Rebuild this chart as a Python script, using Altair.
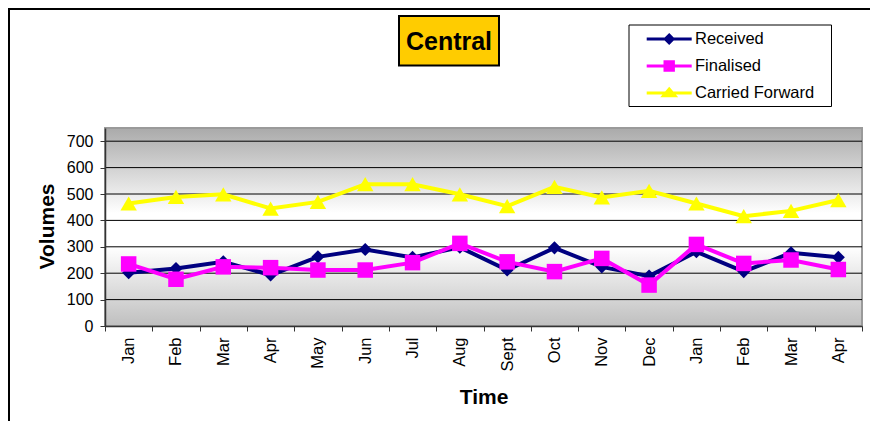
import json
import altair as alt
import pandas as pd

# ---- data ----
MONTHS = ["Jan", "Feb", "Mar", "Apr", "May", "Jun", "Jul", "Aug",
          "Sept", "Oct", "Nov", "Dec", "Jan", "Feb", "Mar", "Apr"]
SERIES = ["Received", "Finalised", "Carried Forward"]
RECEIVED = [202, 218, 243, 193, 262, 290, 260, 298, 212, 296, 224, 189, 281, 206, 277, 260]
FINALISED = [235, 177, 224, 221, 212, 212, 240, 313, 243, 206, 256, 155, 309, 237, 250, 214]
CARRIED = [464, 489, 499, 445, 470, 537, 537, 499, 454, 527, 487, 512, 464, 416, 436, 477]
Y_TICKS = [0, 100, 200, 300, 400, 500, 600, 700]
TITLE = "Central"

# ---- styling ----
COLORS = ["#000080", "#FF00FF", "#FFFF00"]
SHAPES = ["diamond", "square", "triangle-up"]
SIZES = [170, 240, 270]
LEGEND_PATHS = [
    "M-1.5,0L1.5,0M0,-0.26L0.26,0L0,0.26L-0.26,0Z",
    "M-1.5,0L1.5,0M-0.28,-0.28L0.28,-0.28L0.28,0.28L-0.28,0.28Z",
    "M-1.5,0L1.5,0M0,-0.26L0.38,0.18L-0.38,0.18Z",
]
FONT = "Liberation Sans"
W, H = 757, 198

rows = []
for s, vals in zip(SERIES, [RECEIVED, FINALISED, CARRIED]):
    for i, v in enumerate(vals):
        rows.append({"idx": i, "month": MONTHS[i], "series": s, "value": v})
df = pd.DataFrame(rows)

label_expr = json.dumps(MONTHS) + "[datum.value]"

x_axis = alt.Axis(
    title="Time", labelExpr=label_expr, labelAngle=270, labelFont=FONT,
    labelFontSize=16.5, labelColor="black", labelPadding=6, tickBand="extent",
    tickSize=5, tickColor="#333333", domainColor="#333333", domainWidth=1.5,
    titleFont=FONT, titleFontSize=21, titleFontWeight="bold", titleColor="black",
    titleX=378.5, titleY=77, titleBaseline="alphabetic", titleAlign="center",
    grid=False, zindex=1, labelOverlap=False,
)
y_axis = alt.Axis(
    title="Volumes", values=Y_TICKS, labelFont=FONT, labelFontSize=16,
    labelColor="black", labelPadding=7, tickSize=5, tickColor="#333333",
    domainColor="#333333", domainWidth=1.5, titleFont=FONT, titleFontSize=21,
    titleFontWeight="bold", titleColor="black", titleAngle=270, titleX=-52,
    titleY=98, titleBaseline="alphabetic", titleAlign="center", grid=False, zindex=1,
)
x_scale = alt.Scale(type="band", paddingInner=0, paddingOuter=0)
y_scale = alt.Scale(domain=[0, 750], nice=False, zero=True)

one = pd.DataFrame({"a": [0]})

gradient = alt.LinearGradient(
    gradient="linear", x1=0, y1=0, x2=0, y2=1,
    stops=[
        alt.GradientStop(color="#aaaaaa", offset=0),
        alt.GradientStop(color="#ffffff", offset=0.43),
        alt.GradientStop(color="#ffffff", offset=0.6),
        alt.GradientStop(color="#bfbfbf", offset=1),
    ],
)

frame = alt.Chart(one).mark_rect(fill="white", stroke="black", strokeWidth=2).encode(
    x=alt.value(-96), x2=alt.value(W + 300), y=alt.value(-119), y2=alt.value(H + 300)
)
bg = alt.Chart(one).mark_rect(color=gradient, stroke="#9a9a9a", strokeWidth=2).encode(
    x=alt.value(0), x2=alt.value(W), y=alt.value(0), y2=alt.value(H)
)
grid = alt.Chart(pd.DataFrame({"v": Y_TICKS[1:]})).mark_rule(color="black", strokeWidth=1).encode(
    y=alt.Y("v:Q", scale=y_scale, axis=y_axis), x=alt.value(0), x2=alt.value(W)
)

series_layers = []
for s, c, shp, sz in zip(SERIES, COLORS, SHAPES, SIZES):
    base = alt.Chart(df).transform_filter(alt.datum.series == s).encode(
        x=alt.X("idx:O", scale=x_scale, axis=x_axis),
        y=alt.Y("value:Q", scale=y_scale, axis=y_axis),
    )
    series_layers.append(base.mark_line(color=c, strokeWidth=4))
    series_layers.append(base.mark_point(shape=shp, size=sz, filled=True, color=c, opacity=1))

leg = alt.Legend(
    title=None, orient="none", legendX=547.7, legendY=-105.5, padding=0,
    symbolSize=900, symbolStrokeWidth=3, symbolOpacity=1, symbolOffset=0,
    labelFont=FONT, labelFontSize=16.5, labelColor="black", labelOffset=9.3,
    rowPadding=0,
)
legend_layer = alt.Chart(df).mark_point(opacity=0, filled=True).encode(
    x=alt.X("idx:O", scale=x_scale, axis=x_axis),
    y=alt.Y("value:Q", scale=y_scale, axis=y_axis),
    fill=alt.Fill("series:N", scale=alt.Scale(domain=SERIES, range=COLORS), legend=leg),
    stroke=alt.Stroke("series:N", scale=alt.Scale(domain=SERIES, range=COLORS), legend=leg),
    shape=alt.Shape("series:N", scale=alt.Scale(domain=SERIES, range=LEGEND_PATHS), legend=leg),
)

legend_box = alt.Chart(one).mark_rect(fill="white", stroke="black", strokeWidth=1).encode(
    x=alt.value(524), x2=alt.value(726.5), y=alt.value(-103), y2=alt.value(-21.5)
)
title_box = alt.Chart(one).mark_rect(fill="#FFCC00", stroke="black", strokeWidth=2).encode(
    x=alt.value(294), x2=alt.value(394), y=alt.value(-112), y2=alt.value(-62.5)
)
title_text = alt.Chart(one).mark_text(
    text=TITLE, font=FONT, fontSize=25, fontWeight="bold", align="center",
    baseline="alphabetic", color="black",
).encode(x=alt.value(344), y=alt.value(-78))

chart = alt.layer(
    frame, bg, grid, *series_layers, legend_layer, legend_box, title_box, title_text
).properties(
    width=W, height=H,
    autosize=alt.AutoSizeParams(type="none"),
    padding={"left": 97, "top": 120, "right": 8, "bottom": 95},
    background="white",
).configure_view(stroke="transparent")

chart.save("out.html", embed_options={"renderer": "svg", "actions": False})
